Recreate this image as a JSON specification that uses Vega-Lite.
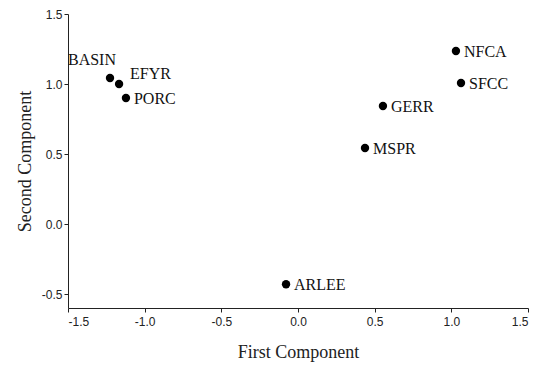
{
  "$schema": "https://vega.github.io/schema/vega-lite/v6.json",
  "width": 460,
  "height": 294,
  "autosize": {"type": "none"},
  "padding": {"left": 68, "top": 14, "right": 23, "bottom": 61},
  "background": "white",
  "config": {
    "view": {"stroke": null},
    "axis": {
      "grid": false,
      "domainColor": "#222",
      "tickColor": "#222",
      "tickSize": 4,
      "labelFont": "Liberation Sans",
      "labelFontSize": 12,
      "labelColor": "#222",
      "titleFont": "Liberation Serif",
      "titleFontSize": 18,
      "titleFontWeight": "normal",
      "titleColor": "#222"
    }
  },
  "data": {
    "values": [
      {"site": "BASIN", "x": -1.226, "y": 1.043},
      {"site": "EFYR", "x": -1.167, "y": 1.0},
      {"site": "PORC", "x": -1.122, "y": 0.9},
      {"site": "NFCA", "x": 1.03, "y": 1.236},
      {"site": "SFCC", "x": 1.063, "y": 1.007},
      {"site": "GERR", "x": 0.554, "y": 0.843},
      {"site": "MSPR", "x": 0.437, "y": 0.543},
      {"site": "ARLEE", "x": -0.078, "y": -0.43}
    ]
  },
  "encoding": {
    "x": {
      "field": "x", "type": "quantitative",
      "scale": {"domain": [-1.5, 1.5], "nice": false, "zero": false},
      "axis": {"values": [-1.5, -1.0, -0.5, 0.0, 0.5, 1.0, 1.5], "labelExpr": "replace(format(datum.value, '.1f'), '\u2212', '-')", "title": "First Component", "titlePadding": 16, "labelPadding": 4}
    },
    "y": {
      "field": "y", "type": "quantitative",
      "scale": {"domain": [-0.6, 1.5], "nice": false, "zero": false},
      "axis": {"values": [-0.5, 0.0, 0.5, 1.0, 1.5], "labelExpr": "replace(format(datum.value, '.1f'), '\u2212', '-')", "title": "Second Component", "titlePadding": 7, "labelPadding": 2}
    }
  },
  "layer": [
    {"mark": {"type": "circle", "size": 70, "color": "black", "opacity": 1}},
    {
      "transform": [{"filter": "datum.site !== 'BASIN' && datum.site !== 'EFYR'"}],
      "mark": {"type": "text", "align": "left", "baseline": "middle", "dx": 8, "dy": 1, "font": "Liberation Serif", "fontSize": 16, "color": "#111"},
      "encoding": {"text": {"field": "site"}}
    },
    {
      "transform": [{"filter": "datum.site === 'EFYR'"}],
      "mark": {"type": "text", "align": "left", "baseline": "middle", "dx": 11, "dy": -10, "font": "Liberation Serif", "fontSize": 16, "color": "#111"},
      "encoding": {"text": {"field": "site"}}
    },
    {
      "transform": [{"filter": "datum.site === 'BASIN'"}],
      "mark": {"type": "text", "align": "right", "baseline": "middle", "dx": 6, "dy": -18, "font": "Liberation Serif", "fontSize": 16, "color": "#111"},
      "encoding": {"text": {"field": "site"}}
    }
  ]
}
